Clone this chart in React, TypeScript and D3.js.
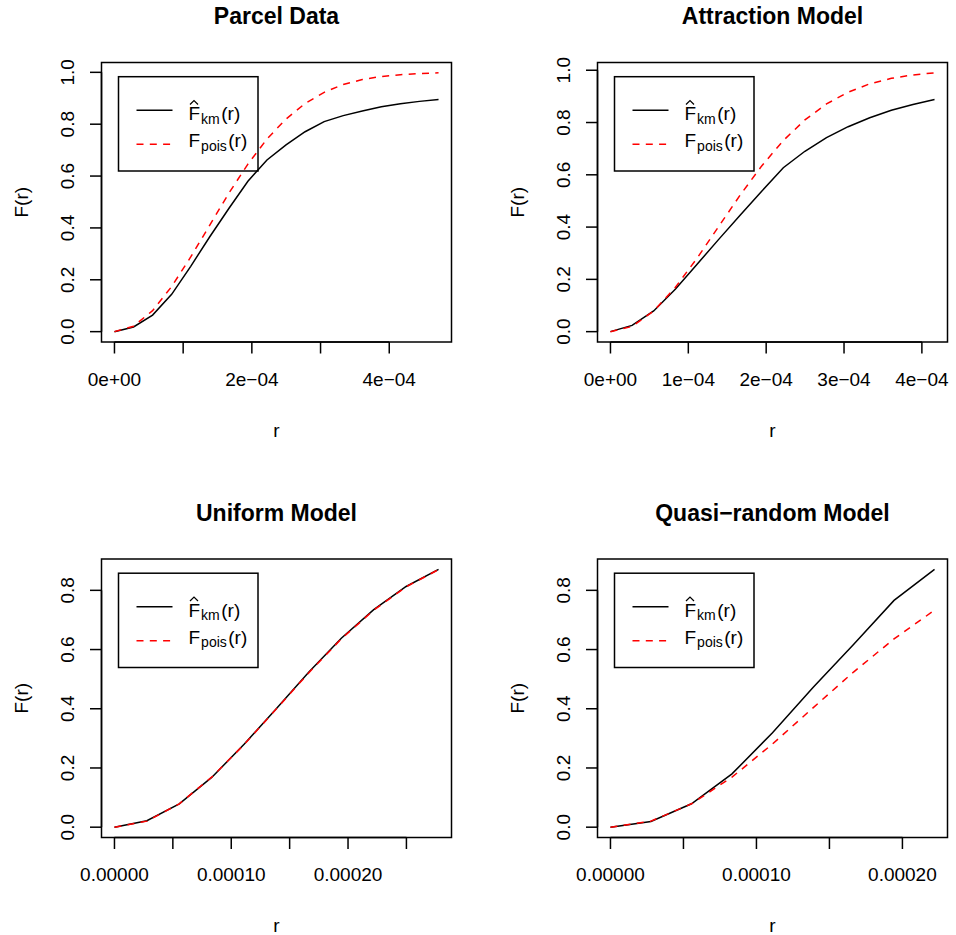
import React from "react";
import * as d3 from "d3";

// ---- data ----
const rParcel = [0, 2.775e-5, 5.55e-5, 8.325e-5, 1.11e-4, 1.3875e-4, 1.665e-4, 1.9425e-4, 2.22e-4, 2.4975e-4, 2.775e-4, 3.0525e-4, 3.33e-4, 3.6075e-4, 3.885e-4, 4.1625e-4, 4.44e-4, 4.7175e-4];
const kmParcel = [0, 0.018, 0.064, 0.144, 0.252, 0.366, 0.475, 0.58, 0.662, 0.72, 0.771, 0.81, 0.833, 0.851, 0.867, 0.879, 0.888, 0.895];
const poisParcel = [0, 0.021, 0.081, 0.174, 0.288, 0.411, 0.534, 0.646, 0.743, 0.82, 0.88, 0.923, 0.953, 0.972, 0.984, 0.991, 0.995, 0.998];

const rAttraction = [0, 2.775e-5, 5.55e-5, 8.325e-5, 1.11e-4, 1.3875e-4, 1.665e-4, 1.9425e-4, 2.22e-4, 2.4975e-4, 2.775e-4, 3.0525e-4, 3.33e-4, 3.6075e-4, 3.885e-4, 4.1625e-4];
const kmAttraction = [0, 0.024, 0.079, 0.162, 0.257, 0.352, 0.445, 0.537, 0.627, 0.69, 0.742, 0.784, 0.818, 0.847, 0.869, 0.888];
const poisAttraction = [0, 0.02, 0.079, 0.169, 0.28, 0.401, 0.522, 0.634, 0.731, 0.81, 0.871, 0.916, 0.948, 0.969, 0.982, 0.99];

const rUniform = [0, 2.775e-5, 5.55e-5, 8.325e-5, 1.11e-4, 1.3875e-4, 1.665e-4, 1.9425e-4, 2.22e-4, 2.4975e-4, 2.775e-4];
const kmUniform = [0, 0.022, 0.079, 0.168, 0.28, 0.401, 0.524, 0.638, 0.735, 0.813, 0.871];
const poisUniform = [0, 0.0205, 0.079, 0.169, 0.279, 0.4, 0.522, 0.636, 0.733, 0.812, 0.87];

const rQuasi = [0, 2.775e-5, 5.55e-5, 8.325e-5, 1.11e-4, 1.3875e-4, 1.665e-4, 1.9425e-4, 2.22e-4];
const kmQuasi = [0, 0.019, 0.079, 0.18, 0.319, 0.472, 0.617, 0.766, 0.871];
const poisQuasi = [0, 0.0204, 0.079, 0.169, 0.281, 0.403, 0.524, 0.636, 0.733];

const titles = ["Parcel Data", "Attraction Model", "Uniform Model", "Quasi\u2212random Model"];

const xTicksSci = [0, 1e-4, 2e-4, 3e-4, 4e-4];
const xLabelsParcel = ["0e+00", "", "2e\u221204", "", "4e\u221204"];
const xLabelsAttraction = ["0e+00", "1e\u221204", "2e\u221204", "3e\u221204", "4e\u221204"];
const xTicksUniform = [0, 5e-5, 1e-4, 1.5e-4, 2e-4, 2.5e-4];
const xLabelsUniform = ["0.00000", "", "0.00010", "", "0.00020", ""];
const xTicksQuasi = [0, 5e-5, 1e-4, 1.5e-4, 2e-4];
const xLabelsQuasi = ["0.00000", "", "0.00010", "", "0.00020"];

const yTicksTop = [0, 0.2, 0.4, 0.6, 0.8, 1.0];
const yTicksBottom = [0, 0.2, 0.4, 0.6, 0.8];

// ---- layout ----
const boxes = [
  { left: 101.5, right: 451.5, top: 62.5, bottom: 342 },
  { left: 597.5, right: 947.5, top: 62.5, bottom: 342 },
  { left: 101.5, right: 451.5, top: 559, bottom: 837.5 },
  { left: 597.5, right: 947.5, top: 559, bottom: 837.5 },
];

const FONT = "'Liberation Sans', Arial, Helvetica, sans-serif";
const LW = 1.5;

type PanelProps = {
  box: { left: number; right: number; top: number; bottom: number };
  title: string;
  r: number[];
  km: number[];
  pois: number[];
  xTicks: number[];
  xLabels: string[];
  yTicks: number[];
};

function Panel({ box, title, r, km, pois, xTicks, xLabels, yTicks }: PanelProps) {
  const { left, right, top, bottom } = box;
  const xMax = d3.max(r) as number;
  const xMin = d3.min(r) as number;
  const xr = xMax - xMin;
  const yAll = [...km, ...pois];
  const [yMin, yMax] = d3.extent(yAll) as [number, number];
  const yr = yMax - yMin;
  const xs = d3.scaleLinear().domain([xMin - 0.04 * xr, xMax + 0.04 * xr]).range([left, right]);
  const ys = d3.scaleLinear().domain([yMin - 0.04 * yr, yMax + 0.04 * yr]).range([bottom, top]);
  const line = d3
    .line<number>()
    .x((_, i) => xs(r[i]))
    .y((d) => ys(d));

  const tick = 11.5;
  const lx = left + 17;
  const ly = top + 14.2;
  const lw = 139.5;
  const lh = 94.3;
  const tx = lx + 70;
  const b1 = ly + 43.3;
  const b2 = ly + 70.5;

  return (
    <g fontFamily={FONT}>
      <text x={(left + right) / 2} y={top - 38.5} textAnchor="middle" fontSize={23} fontWeight="bold">
        {title}
      </text>
      {/* curves */}
      <path d={line(km) || ""} fill="none" stroke="#000" strokeWidth={LW} />
      <path d={line(pois) || ""} fill="none" stroke="#FF0000" strokeWidth={LW} strokeDasharray="7,6.3" />
      {/* box */}
      <rect x={left} y={top} width={right - left} height={bottom - top} fill="none" stroke="#000" strokeWidth={LW} />
      {/* x axis */}
      <line x1={xs(xTicks[0])} x2={xs(xTicks[xTicks.length - 1])} y1={bottom} y2={bottom} stroke="#000" strokeWidth={LW} />
      {xTicks.map((t, i) => (
        <g key={"xt" + i}>
          <line x1={xs(t)} x2={xs(t)} y1={bottom} y2={bottom + tick} stroke="#000" strokeWidth={LW} />
          {xLabels[i] ? (
            <text x={xs(t)} y={bottom + 43.5} textAnchor="middle" fontSize={19}>
              {xLabels[i]}
            </text>
          ) : null}
        </g>
      ))}
      <text x={(left + right) / 2} y={bottom + 94.5} textAnchor="middle" fontSize={19}>
        r
      </text>
      {/* y axis */}
      <line x1={left} x2={left} y1={ys(yTicks[0])} y2={ys(yTicks[yTicks.length - 1])} stroke="#000" strokeWidth={LW} />
      {yTicks.map((t, i) => (
        <g key={"yt" + i}>
          <line x1={left - tick} x2={left} y1={ys(t)} y2={ys(t)} stroke="#000" strokeWidth={LW} />
          <text transform={`translate(${left - 27.5},${ys(t)}) rotate(-90)`} textAnchor="middle" fontSize={19}>
            {t.toFixed(1)}
          </text>
        </g>
      ))}
      <text transform={`translate(${left - 73.5},${(top + bottom) / 2}) rotate(-90)`} textAnchor="middle" fontSize={19}>
        F(r)
      </text>
      {/* legend */}
      <rect x={lx} y={ly} width={lw} height={lh} fill="none" stroke="#000" strokeWidth={LW} />
      <line x1={lx + 18} x2={lx + 54} y1={ly + 33.5} y2={ly + 33.5} stroke="#000" strokeWidth={LW} />
      <line x1={lx + 18} x2={lx + 54} y1={ly + 67.5} y2={ly + 67.5} stroke="#FF0000" strokeWidth={LW} strokeDasharray="7,6.3" />
      <text x={tx} y={b1} fontSize={19}>
        F
        <tspan dx={1} dy={3.5} fontSize={14}>km</tspan>
        <tspan dx={1.5} dy={-3.5} fontSize={19}>(r)</tspan>
      </text>
      <path
        d={`M${tx + 1.5},${b1 - 15.5} L${tx + 5.5},${b1 - 19.5} L${tx + 9.5},${b1 - 15.5}`}
        fill="none"
        stroke="#000"
        strokeWidth={1.2}
      />
      <text x={tx} y={b2} fontSize={19}>
        F
        <tspan dx={1} dy={3.5} fontSize={14}>pois</tspan>
        <tspan dx={1.5} dy={-3.5} fontSize={19}>(r)</tspan>
      </text>
    </g>
  );
}

export default function App() {
  const panels: PanelProps[] = [
    { box: boxes[0], title: titles[0], r: rParcel, km: kmParcel, pois: poisParcel, xTicks: xTicksSci, xLabels: xLabelsParcel, yTicks: yTicksTop },
    { box: boxes[1], title: titles[1], r: rAttraction, km: kmAttraction, pois: poisAttraction, xTicks: xTicksSci, xLabels: xLabelsAttraction, yTicks: yTicksTop },
    { box: boxes[2], title: titles[2], r: rUniform, km: kmUniform, pois: poisUniform, xTicks: xTicksUniform, xLabels: xLabelsUniform, yTicks: yTicksBottom },
    { box: boxes[3], title: titles[3], r: rQuasi, km: kmQuasi, pois: poisQuasi, xTicks: xTicksQuasi, xLabels: xLabelsQuasi, yTicks: yTicksBottom },
  ];
  return (
    <svg
      width={956}
      height={935}
      viewBox="0 0 956 935"
      style={{ position: "absolute", left: 0, top: 0, background: "#fff" }}
    >
      <rect x={0} y={0} width={956} height={935} fill="#fff" />
      {panels.map((p, i) => (
        <Panel key={i} {...p} />
      ))}
    </svg>
  );
}
